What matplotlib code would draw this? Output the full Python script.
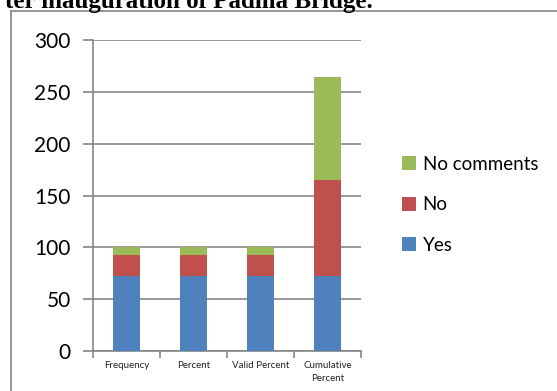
import matplotlib
matplotlib.use("Agg")
import matplotlib.pyplot as plt
import numpy as np
from matplotlib.lines import Line2D

categories = ["Frequency", "Percent", "Valid Percent", "Cumulative\nPercent"]
yes = [72, 72, 72, 72]
no = [20.5, 20.5, 20.5, 92.5]
no_comments = [7.5, 7.5, 7.5, 100]

plt.rcParams['font.family'] = ['Lato', 'DejaVu Sans']

fig = plt.figure(figsize=(5.57, 3.91), dpi=100)
ax = fig.add_axes([0.167, 0.102, 0.481, 0.796])

x = np.arange(len(categories))
w = 0.4
b1 = ax.bar(x, yes, w, color="#4F81BD", label="Yes", zorder=3)
b2 = ax.bar(x, no, w, bottom=yes, color="#C0504D", label="No", zorder=3)
bot = np.array(yes) + np.array(no)
b3 = ax.bar(x, no_comments, w, bottom=bot, color="#9BBB59", label="No comments", zorder=3)

ax.set_xlim(-0.5, len(categories) - 0.5)
ax.set_ylim(0, 300)
ax.set_yticks(range(0, 301, 50))
ax.yaxis.grid(True, color="#868686", linewidth=1.2, zorder=0)
ax.set_xticks(x)
ax.set_xticklabels(categories, fontsize=7, color="#222222", linespacing=1.6)
ax.tick_params(axis="x", length=0, pad=7)
ax.set_xticks(np.arange(-0.5, len(categories), 1), minor=True)
ax.tick_params(axis="x", which="minor", length=5, color="#868686", width=1.2, direction="out")
ax.tick_params(axis="y", length=7, color="#868686", width=1.2, labelsize=15, pad=9)

for s in ["top", "right"]:
    ax.spines[s].set_visible(False)
for s in ["left", "bottom"]:
    ax.spines[s].set_color("#868686")
    ax.spines[s].set_linewidth(1.2)

handles = [b3, b2, b1]
ax.legend(handles, ["No comments", "No", "Yes"], loc="center left",
          bbox_to_anchor=(1.09, 0.47), frameon=False, fontsize=13.5,
          handlelength=0.75, handleheight=0.75, handletextpad=0.35, labelspacing=1.25)

# frame around the chart (only left and top edges visible in the crop)
fig.add_artist(Line2D([11 / 557, 11 / 557], [0, 1 - 11 / 391], color="#8c8c8c", linewidth=1.3))
fig.add_artist(Line2D([11 / 557, 1], [1 - 11 / 391, 1 - 11 / 391], color="#8c8c8c", linewidth=1.3))

fig.text(373 / 557, 1 - 8 / 391, "ter inauguration of Padma Bridge.", ha="right", va="baseline",
         fontsize=18, fontweight="bold", family="Liberation Serif")

fig.savefig("out.png", dpi=100)
